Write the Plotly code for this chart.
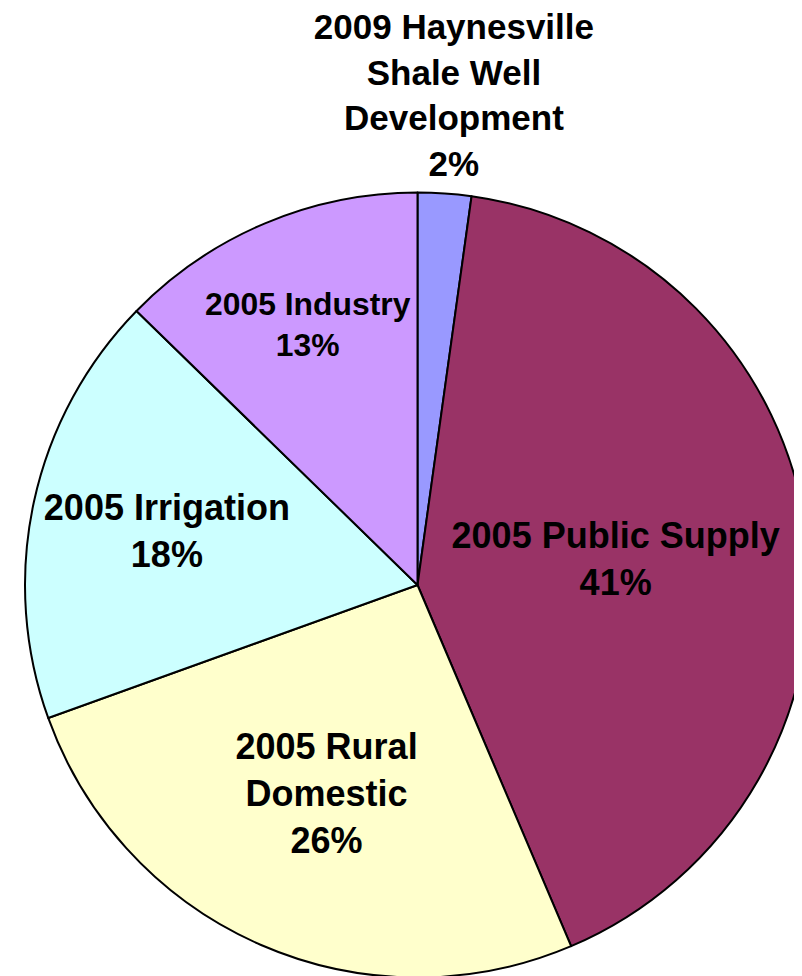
import plotly.graph_objects as go

# slices, clockwise from 12 o'clock
labels = [
    "2009 Haynesville<br>Shale Well<br>Development",
    "2005 Public Supply",
    "2005 Rural<br>Domestic",
    "2005 Irrigation",
    "2005 Industry",
]
values = [2.2, 41.4, 25.9, 17.8, 12.7]
colors = ["#9999FF", "#993366", "#FFFFCC", "#CCFFFF", "#CC99FF"]

FONT = "Liberation Sans, Arial, sans-serif"

# the tiny Haynesville slice gets its label above the pie (as in the original)
templates = [""] + ["%{label}<br>%{percent:.0%}"] * (len(labels) - 1)
top_pct = round(values[0] / sum(values) * 100)
top_label = f"{labels[0]}<br>{top_pct}%"

fig = go.Figure(go.Pie(
    labels=labels,
    values=values,
    sort=False,
    direction="clockwise",
    rotation=0,
    marker=dict(colors=colors, line=dict(color="black", width=2)),
    texttemplate=templates,
    textposition="inside",
    insidetextorientation="horizontal",
    textfont=dict(family=FONT, size=36, color="black", weight="bold"),
    showlegend=False,
    hoverinfo="label+percent",
))

fig.update_layout(
    width=802,
    height=976,
    margin=dict(l=17, r=0, t=178, b=0),
    paper_bgcolor="white",
    font=dict(family=FONT, size=35, color="black"),
    title=dict(
        text=top_label,
        x=0.556,
        xanchor="center",
        y=0.968,
        yanchor="top",
        font=dict(family=FONT, size=35, color="black", weight="bold"),
    ),
)

fig.write_html("out.html")
